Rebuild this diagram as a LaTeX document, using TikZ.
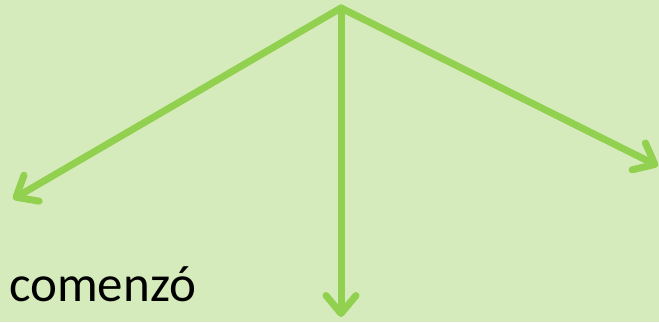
\documentclass[tikz,border=0pt]{standalone}
\usepackage{fontspec}
\setmainfont{Carlito}
\usetikzlibrary{arrows.meta}
\definecolor{bg}{RGB}{214,235,187}
\definecolor{arr}{RGB}{146,208,80}
\begin{document}
\begin{tikzpicture}[x=1pt,y=-1pt,
  conn/.style={draw=arr,line width=7pt,line cap=round,line join=round,
    -{Straight Barb[length=18pt,width=30pt,line cap=round,line join=round]}}]
\fill[bg] (0,0) rectangle (659,322);
\useasboundingbox (0,0) rectangle (659,322);
\coordinate (top) at (341,8);
\coordinate (l) at (13,199);
\coordinate (d) at (341,317);
\coordinate (r) at (658,166);
\draw[conn] (top) -- (l);
\draw[conn] (top) -- (d);
\draw[conn] (top) -- (r);
\node[anchor=base west,inner sep=0pt,font=\fontsize{51}{60}\selectfont] (t) at (9,301) {comenzó};
\end{tikzpicture}
\end{document}
